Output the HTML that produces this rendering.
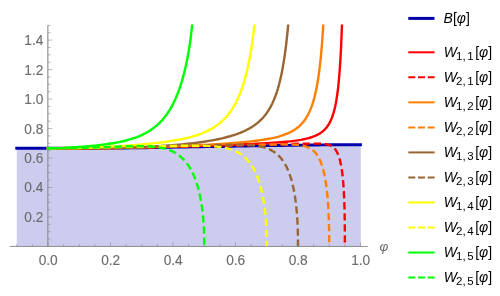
<!DOCTYPE html>
<html><head><meta charset="utf-8"><title>plot</title>
<style>html,body{margin:0;padding:0;background:#fff;}body{width:500px;height:296px;overflow:hidden;font-family:"Liberation Sans",sans-serif;}svg{display:block;will-change:transform;}</style>
</head><body>
<svg width="500" height="296" viewBox="0 0 500 296">
<rect width="500" height="296" fill="#ffffff"/>
<polygon points="16.8,148.20 22.6,148.20 28.5,148.20 34.3,148.20 40.1,148.20 46.0,148.20 51.8,148.20 57.6,148.20 63.4,148.20 69.3,148.20 75.1,148.20 80.9,148.20 86.8,148.19 92.6,148.18 98.4,148.16 104.3,148.13 110.1,148.10 115.9,148.06 121.7,148.01 127.6,147.94 133.4,147.87 139.2,147.78 145.1,147.70 150.9,147.60 156.7,147.49 162.6,147.38 168.4,147.28 174.2,147.18 180.1,147.08 185.9,146.99 191.7,146.90 197.5,146.81 203.4,146.71 209.2,146.62 215.0,146.53 220.9,146.43 226.7,146.34 232.5,146.23 238.4,146.13 244.2,146.03 250.0,145.93 255.9,145.83 261.7,145.73 267.5,145.64 273.3,145.55 279.2,145.46 285.0,145.38 290.8,145.29 296.7,145.21 302.5,145.14 308.3,145.06 314.2,144.99 320.0,144.92 325.8,144.85 331.6,144.79 337.5,144.75 343.3,144.74 349.1,144.72 355.0,144.71 360.8,144.70 360.8,246.5 16.8,246.5" fill="#ccccee"/>
<g fill="none">
<line x1="9.6" y1="246.45" x2="367.8" y2="246.45" stroke="#6e6e6e" stroke-width="0.75"/>
<line x1="47.85" y1="25.35" x2="47.85" y2="246.45" stroke="#8e8e8e" stroke-width="1.15"/>
</g>
<g stroke="#808080" stroke-width="0.55" fill="none">
<line x1="47.85" y1="239.08" x2="50.65" y2="239.08"/>
<line x1="47.85" y1="231.71" x2="50.65" y2="231.71"/>
<line x1="47.85" y1="224.34" x2="50.65" y2="224.34"/>
<line x1="47.85" y1="216.97" x2="52.25" y2="216.97"/>
<line x1="47.85" y1="209.60" x2="50.65" y2="209.60"/>
<line x1="47.85" y1="202.23" x2="50.65" y2="202.23"/>
<line x1="47.85" y1="194.86" x2="50.65" y2="194.86"/>
<line x1="47.85" y1="187.49" x2="52.25" y2="187.49"/>
<line x1="47.85" y1="180.12" x2="50.65" y2="180.12"/>
<line x1="47.85" y1="172.75" x2="50.65" y2="172.75"/>
<line x1="47.85" y1="165.38" x2="50.65" y2="165.38"/>
<line x1="47.85" y1="158.01" x2="52.25" y2="158.01"/>
<line x1="47.85" y1="150.64" x2="50.65" y2="150.64"/>
<line x1="47.85" y1="143.27" x2="50.65" y2="143.27"/>
<line x1="47.85" y1="135.90" x2="50.65" y2="135.90"/>
<line x1="47.85" y1="128.53" x2="52.25" y2="128.53"/>
<line x1="47.85" y1="121.16" x2="50.65" y2="121.16"/>
<line x1="47.85" y1="113.79" x2="50.65" y2="113.79"/>
<line x1="47.85" y1="106.42" x2="50.65" y2="106.42"/>
<line x1="47.85" y1="99.05" x2="52.25" y2="99.05"/>
<line x1="47.85" y1="91.68" x2="50.65" y2="91.68"/>
<line x1="47.85" y1="84.31" x2="50.65" y2="84.31"/>
<line x1="47.85" y1="76.94" x2="50.65" y2="76.94"/>
<line x1="47.85" y1="69.57" x2="52.25" y2="69.57"/>
<line x1="47.85" y1="62.20" x2="50.65" y2="62.20"/>
<line x1="47.85" y1="54.83" x2="50.65" y2="54.83"/>
<line x1="47.85" y1="47.46" x2="50.65" y2="47.46"/>
<line x1="47.85" y1="40.09" x2="52.25" y2="40.09"/>
<line x1="47.85" y1="32.72" x2="50.65" y2="32.72"/>
<line x1="47.85" y1="25.35" x2="50.65" y2="25.35"/>
<line x1="16.75" y1="246.45" x2="16.75" y2="244.05"/>
<line x1="32.38" y1="246.45" x2="32.38" y2="244.05"/>
<line x1="48.00" y1="246.45" x2="48.00" y2="242.45"/>
<line x1="63.62" y1="246.45" x2="63.62" y2="244.05"/>
<line x1="79.25" y1="246.45" x2="79.25" y2="244.05"/>
<line x1="94.88" y1="246.45" x2="94.88" y2="244.05"/>
<line x1="110.50" y1="246.45" x2="110.50" y2="242.45"/>
<line x1="126.12" y1="246.45" x2="126.12" y2="244.05"/>
<line x1="141.75" y1="246.45" x2="141.75" y2="244.05"/>
<line x1="157.38" y1="246.45" x2="157.38" y2="244.05"/>
<line x1="173.00" y1="246.45" x2="173.00" y2="242.45"/>
<line x1="188.62" y1="246.45" x2="188.62" y2="244.05"/>
<line x1="204.25" y1="246.45" x2="204.25" y2="244.05"/>
<line x1="219.88" y1="246.45" x2="219.88" y2="244.05"/>
<line x1="235.50" y1="246.45" x2="235.50" y2="242.45"/>
<line x1="251.12" y1="246.45" x2="251.12" y2="244.05"/>
<line x1="266.75" y1="246.45" x2="266.75" y2="244.05"/>
<line x1="282.38" y1="246.45" x2="282.38" y2="244.05"/>
<line x1="298.00" y1="246.45" x2="298.00" y2="242.45"/>
<line x1="313.62" y1="246.45" x2="313.62" y2="244.05"/>
<line x1="329.25" y1="246.45" x2="329.25" y2="244.05"/>
<line x1="344.88" y1="246.45" x2="344.88" y2="244.05"/>
<line x1="360.50" y1="246.45" x2="360.50" y2="242.45"/>
</g>
<g font-family="Liberation Sans, sans-serif" font-size="14.0" fill="#6c6c6c" stroke="#6c6c6c" stroke-width="0.12">
<text transform="translate(43.4 221.97) scale(0.98 1)" text-anchor="end">0.2</text>
<text transform="translate(43.4 192.49) scale(0.98 1)" text-anchor="end">0.4</text>
<text transform="translate(43.4 163.01) scale(0.98 1)" text-anchor="end">0.6</text>
<text transform="translate(43.4 133.53) scale(0.98 1)" text-anchor="end">0.8</text>
<text transform="translate(43.4 104.05) scale(0.98 1)" text-anchor="end">1.0</text>
<text transform="translate(43.4 74.57) scale(0.98 1)" text-anchor="end">1.2</text>
<text transform="translate(43.4 45.09) scale(0.98 1)" text-anchor="end">1.4</text>
<text transform="translate(48.20 264.6) scale(0.98 1)" text-anchor="middle">0.0</text>
<text transform="translate(110.70 264.6) scale(0.98 1)" text-anchor="middle">0.2</text>
<text transform="translate(173.20 264.6) scale(0.98 1)" text-anchor="middle">0.4</text>
<text transform="translate(235.70 264.6) scale(0.98 1)" text-anchor="middle">0.6</text>
<text transform="translate(298.20 264.6) scale(0.98 1)" text-anchor="middle">0.8</text>
<text transform="translate(360.70 264.6) scale(0.98 1)" text-anchor="middle">1.0</text>
<text x="379.5" y="250.7" font-style="italic" font-size="13.5" stroke="none">φ</text>
</g>
<clipPath id="cp"><rect x="10" y="24.5" width="360" height="222"/></clipPath>
<g clip-path="url(#cp)" fill="none" stroke-linejoin="round">
<path d="M15.3 148.20 20.3 148.20 25.3 148.20 30.4 148.20 35.4 148.20 40.4 148.20 45.4 148.20 50.5 148.20 55.5 148.20 60.5 148.20 65.5 148.20 70.6 148.20 75.6 148.20 80.6 148.20 85.6 148.19 90.6 148.18 95.7 148.17 100.7 148.15 105.7 148.12 110.7 148.10 115.8 148.07 120.8 148.02 125.8 147.96 130.8 147.90 135.9 147.83 140.9 147.76 145.9 147.69 150.9 147.60 155.9 147.51 161.0 147.41 166.0 147.32 171.0 147.23 176.0 147.15 181.1 147.07 186.1 146.99 191.1 146.91 196.1 146.83 201.2 146.75 206.2 146.67 211.2 146.59 216.2 146.51 221.3 146.43 226.3 146.34 231.3 146.26 236.3 146.17 241.3 146.08 246.4 145.99 251.4 145.90 256.4 145.82 261.4 145.73 266.5 145.65 271.5 145.58 276.5 145.50 281.5 145.43 286.6 145.35 291.6 145.28 296.6 145.21 301.6 145.15 306.6 145.08 311.7 145.02 316.7 144.96 321.7 144.90 326.7 144.84 331.8 144.79 336.8 144.76 341.8 144.74 346.8 144.73 351.9 144.72 356.9 144.71 361.9 144.70" stroke="#0000a8" stroke-width="2.9"/>
<path d="M46.75 148.20 80.69 148.19 95.23 148.13 114.62 147.96 131.59 147.67 150.98 147.22 210.37 145.53 232.80 144.77 252.19 143.96 266.13 143.24 277.03 142.53 286.12 141.76 290.25 141.32 294.03 140.86 297.53 140.37 300.77 139.84 303.75 139.26 306.51 138.65 309.07 137.98 311.45 137.26 313.65 136.48 315.69 135.63 317.63 134.70 319.43 133.68 321.11 132.58 322.67 131.39 324.13 130.10 325.49 128.70 326.75 127.19 327.93 125.57 329.03 123.82 330.07 121.91 331.05 119.84 331.95 117.65 332.81 115.25 333.61 112.69 334.37 109.90 335.07 106.96 335.73 103.79 336.37 100.29 336.97 96.54 337.53 92.54 338.05 88.33 338.55 83.72 339.47 73.47 340.29 61.73 341.01 48.59 341.67 33.29 342.25 16.30" stroke="#ff0000" stroke-width="2.4"/>
<path d="M46.75 148.20 90.36 148.05 112.75 147.85 127.08 147.64 148.36 147.23 273.29 144.35 298.23 143.82 310.34 143.61 317.50 143.60 320.08 143.66 322.29 143.78 324.26 143.96 325.97 144.20 327.53 144.52 328.93 144.92 330.20 145.40 331.41 146.00 332.51 146.69 333.52 147.49 334.47 148.42 335.34 149.45 336.16 150.62 336.92 151.93 337.65 153.39 338.32 155.00 338.96 156.77 339.57 158.77 340.14 160.92 340.66 163.25 341.15 165.72 341.61 168.45 342.04 171.43 342.45 174.67 343.15 181.70 343.73 189.61 344.18 198.54 344.51 208.26 344.73 219.09 344.85 231.07 344.88 246.45" stroke="#ff0000" stroke-width="2.4" stroke-dasharray="7.3 3.75" stroke-dashoffset="9.29"/>
<path d="M46.75 148.20 81.71 148.19 98.03 148.12 116.09 147.94 132.99 147.59 152.22 147.03 182.53 145.85 204.09 144.85 221.57 143.85 234.39 142.94 246.04 141.90 251.29 141.34 255.95 140.78 260.61 140.15 264.69 139.52 268.77 138.80 272.26 138.10 275.76 137.30 278.67 136.54 281.64 135.66 284.41 134.71 287.01 133.70 289.43 132.62 291.66 131.49 293.78 130.27 295.76 128.96 297.62 127.57 299.37 126.08 301.03 124.49 302.58 122.79 304.06 120.96 305.45 119.02 306.78 116.93 308.03 114.71 309.22 112.32 310.35 109.75 311.41 107.07 312.41 104.22 313.37 101.15 314.29 97.85 315.16 94.38 315.99 90.68 316.77 86.73 317.52 82.54 318.24 78.12 318.91 73.46 319.56 68.43 320.18 63.18 320.77 57.52 321.89 45.17 322.89 31.60 323.81 16.35" stroke="#ff8000" stroke-width="2.4"/>
<path d="M46.75 148.20 98.10 147.78 124.02 147.48 145.59 147.09 172.57 146.49 258.99 144.74 271.57 144.52 280.56 144.42 285.70 144.42 289.95 144.49 293.55 144.63 296.72 144.85 299.51 145.15 302.02 145.56 304.33 146.08 306.40 146.71 308.05 147.35 309.62 148.10 311.06 148.95 312.43 149.92 313.73 151.02 314.93 152.22 316.09 153.59 317.16 155.05 318.20 156.71 319.18 158.51 320.10 160.45 320.96 162.54 321.79 164.85 322.57 167.30 323.28 169.88 323.97 172.68 324.63 175.80 325.24 179.04 325.81 182.50 326.33 186.16 326.81 190.02 327.26 194.17 327.66 198.48 328.00 202.94 328.57 212.46 328.96 222.73 329.18 233.78 329.25 246.45" stroke="#ff8000" stroke-width="2.4" stroke-dasharray="7.3 3.75" stroke-dashoffset="9.22"/>
<path d="M46.75 148.20 79.67 148.16 94.01 148.09 112.60 147.87 126.41 147.57 142.34 147.02 154.55 146.41 161.45 145.98 168.89 145.46 175.26 144.95 181.63 144.38 187.48 143.79 193.32 143.13 198.63 142.45 203.94 141.69 208.72 140.93 213.50 140.08 217.75 139.24 221.99 138.31 226.24 137.27 229.96 136.26 233.68 135.13 236.86 134.05 240.05 132.86 243.23 131.53 245.89 130.29 248.55 128.92 251.20 127.39 253.32 126.04 255.45 124.54 257.57 122.88 259.53 121.18 261.38 119.39 263.15 117.51 264.84 115.52 266.45 113.41 267.99 111.17 269.44 108.83 270.84 106.34 272.17 103.72 273.44 100.98 274.64 98.07 275.80 95.00 276.90 91.78 277.97 88.33 278.99 84.71 279.95 80.94 280.88 76.94 281.77 72.71 282.63 68.24 283.45 63.54 284.24 58.60 285.00 53.43 285.71 48.03 286.41 42.27 287.73 29.93 288.94 16.41" stroke="#996633" stroke-width="2.4"/>
<path d="M46.75 148.20 86.88 148.09 106.60 147.91 120.90 147.70 148.22 147.06 218.34 144.95 228.83 144.72 236.70 144.66 242.12 144.72 246.87 144.89 251.18 145.17 255.00 145.58 258.54 146.11 261.75 146.78 264.77 147.60 267.56 148.58 269.60 149.45 271.55 150.43 273.41 151.53 275.18 152.74 276.87 154.07 278.47 155.52 279.98 157.08 281.46 158.82 282.85 160.67 284.16 162.65 285.40 164.74 286.59 167.01 287.73 169.46 288.80 172.02 289.81 174.76 290.75 177.60 291.65 180.69 292.50 183.94 293.28 187.36 294.01 190.93 294.67 194.64 295.27 198.56 295.81 202.58 296.29 206.78 296.71 211.13 297.07 215.60 297.37 220.23 297.61 225.04 297.79 229.95 297.91 235.06 298.00 246.45" stroke="#996633" stroke-width="2.4" stroke-dasharray="7.3 3.75" stroke-dashoffset="9.13"/>
<path d="M46.75 148.20 63.26 148.16 77.09 147.93 91.36 147.49 107.42 146.77 122.14 145.93 137.31 144.83 143.56 144.30 149.36 143.75 155.16 143.14 160.51 142.50 165.42 141.86 170.32 141.14 174.34 140.50 178.35 139.79 182.37 138.99 185.94 138.21 189.51 137.33 192.63 136.48 195.75 135.54 198.88 134.50 201.55 133.51 204.23 132.42 206.91 131.21 209.14 130.10 211.81 128.63 214.04 127.28 216.27 125.79 218.51 124.15 220.74 122.33 222.52 120.74 224.31 119.00 226.22 116.95 227.97 114.90 229.65 112.75 231.26 110.48 232.82 108.09 234.32 105.58 235.76 102.95 237.14 100.20 238.48 97.30 239.76 94.29 240.99 91.11 242.18 87.79 243.31 84.35 244.42 80.71 245.47 76.92 246.49 72.97 247.47 68.81 248.41 64.49 249.31 60.03 250.18 55.35 251.02 50.45 251.82 45.31 252.59 40.05 254.04 28.73 255.38 16.50" stroke="#ffff00" stroke-width="2.4"/>
<path d="M46.75 148.20 61.17 147.92 94.89 147.50 118.88 147.16 142.94 146.66 167.25 146.06 179.90 145.81 191.11 145.69 200.02 145.73 206.27 145.89 211.68 146.17 216.52 146.59 220.91 147.15 224.96 147.87 228.63 148.76 230.38 149.27 232.01 149.82 233.65 150.44 235.19 151.08 237.25 152.08 239.22 153.18 241.05 154.35 242.85 155.66 244.56 157.08 246.19 158.61 247.73 160.25 249.24 162.04 250.67 163.94 252.05 166.01 253.35 168.18 254.57 170.45 255.75 172.89 256.87 175.48 257.92 178.17 258.91 181.01 259.87 184.07 260.76 187.27 261.60 190.62 262.37 194.08 263.08 197.75 263.73 201.51 264.32 205.42 264.84 209.48 265.30 213.64 265.69 217.87 266.03 222.29 266.30 226.82 266.50 231.45 266.64 236.23 266.72 241.13 266.75 246.45" stroke="#ffff00" stroke-width="2.4" stroke-dasharray="7.3 3.75" stroke-dashoffset="9.48"/>
<path d="M46.75 148.20 55.98 148.13 65.20 147.83 75.62 147.25 86.33 146.44 96.15 145.49 105.08 144.40 109.25 143.81 112.82 143.24 116.39 142.60 119.96 141.89 122.94 141.23 125.92 140.50 128.89 139.69 131.57 138.89 134.25 138.01 136.93 137.04 139.31 136.09 141.69 135.05 143.77 134.05 145.86 132.97 147.94 131.79 150.02 130.50 152.11 129.09 153.89 127.78 155.68 126.36 157.46 124.82 159.25 123.14 161.04 121.33 162.82 119.35 164.31 117.57 165.93 115.47 167.50 113.26 169.03 110.95 170.49 108.55 171.89 106.08 173.25 103.49 174.57 100.78 175.84 97.97 177.08 95.02 178.27 91.97 179.42 88.81 180.54 85.52 181.64 82.02 182.70 78.41 183.71 74.68 184.69 70.82 185.63 66.83 186.53 62.70 187.38 58.49 188.19 54.14 188.95 49.71 189.66 45.20 190.34 40.54 190.95 35.86 192.04 26.26 192.92 16.39" stroke="#00ff00" stroke-width="2.4"/>
<path d="M46.75 148.20 64.18 148.09 83.47 147.75 97.30 147.36 125.03 146.40 133.20 146.18 140.62 146.12 147.10 146.26 151.86 146.54 156.19 146.98 160.15 147.59 163.82 148.37 165.57 148.84 167.22 149.34 168.87 149.92 170.42 150.52 171.98 151.20 173.44 151.91 174.85 152.67 176.27 153.51 178.02 154.67 179.75 155.97 181.39 157.35 182.97 158.84 184.46 160.41 185.93 162.13 187.32 163.93 188.64 165.82 189.92 167.85 191.12 169.96 192.29 172.21 193.41 174.59 194.48 177.11 195.48 179.70 196.44 182.41 197.33 185.25 198.18 188.20 198.99 191.33 199.72 194.50 200.40 197.82 201.04 201.30 201.62 204.84 202.13 208.51 202.59 212.27 203.00 216.12 203.34 220.08 203.63 224.12 203.86 228.31 204.16 236.95 204.25 246.45" stroke="#00ff00" stroke-width="2.4" stroke-dasharray="7.3 3.75" stroke-dashoffset="9.56"/>
</g>
<g font-family="Liberation Sans, sans-serif" font-size="14" fill="#000000">
<line x1="408.3" y1="18.4" x2="434.5" y2="18.4" stroke="#0000a8" stroke-width="3"/>
<text x="443.6" y="23"><tspan font-style="italic">B</tspan>[<tspan font-style="italic">φ</tspan>]</text>
<line x1="408.3" y1="52.30" x2="434.6" y2="52.30" stroke="#ff0000" stroke-width="2"/>
<text x="443.8" y="57.05"><tspan font-style="italic">W</tspan><tspan font-size="11.5" dy="3" dx="-0.9">1,</tspan><tspan font-size="11.5" dx="1.6">1</tspan><tspan dy="-3" dx="1.5">[</tspan><tspan font-style="italic">φ</tspan>]</text>
<line x1="408.3" y1="77.33" x2="434.6" y2="77.33" stroke="#ff0000" stroke-width="2" stroke-dasharray="7 2.7"/>
<text x="443.8" y="82.08"><tspan font-style="italic">W</tspan><tspan font-size="11.5" dy="3" dx="-0.9">2,</tspan><tspan font-size="11.5" dx="1.6">1</tspan><tspan dy="-3" dx="1.5">[</tspan><tspan font-style="italic">φ</tspan>]</text>
<line x1="408.3" y1="102.36" x2="434.6" y2="102.36" stroke="#ff8000" stroke-width="2"/>
<text x="443.8" y="107.11"><tspan font-style="italic">W</tspan><tspan font-size="11.5" dy="3" dx="-0.9">1,</tspan><tspan font-size="11.5" dx="1.6">2</tspan><tspan dy="-3" dx="1.5">[</tspan><tspan font-style="italic">φ</tspan>]</text>
<line x1="408.3" y1="127.39" x2="434.6" y2="127.39" stroke="#ff8000" stroke-width="2" stroke-dasharray="7 2.7"/>
<text x="443.8" y="132.14"><tspan font-style="italic">W</tspan><tspan font-size="11.5" dy="3" dx="-0.9">2,</tspan><tspan font-size="11.5" dx="1.6">2</tspan><tspan dy="-3" dx="1.5">[</tspan><tspan font-style="italic">φ</tspan>]</text>
<line x1="408.3" y1="152.42" x2="434.6" y2="152.42" stroke="#996633" stroke-width="2"/>
<text x="443.8" y="157.17"><tspan font-style="italic">W</tspan><tspan font-size="11.5" dy="3" dx="-0.9">1,</tspan><tspan font-size="11.5" dx="1.6">3</tspan><tspan dy="-3" dx="1.5">[</tspan><tspan font-style="italic">φ</tspan>]</text>
<line x1="408.3" y1="177.45" x2="434.6" y2="177.45" stroke="#996633" stroke-width="2" stroke-dasharray="7 2.7"/>
<text x="443.8" y="182.20"><tspan font-style="italic">W</tspan><tspan font-size="11.5" dy="3" dx="-0.9">2,</tspan><tspan font-size="11.5" dx="1.6">3</tspan><tspan dy="-3" dx="1.5">[</tspan><tspan font-style="italic">φ</tspan>]</text>
<line x1="408.3" y1="202.48" x2="434.6" y2="202.48" stroke="#ffff00" stroke-width="2"/>
<text x="443.8" y="207.23"><tspan font-style="italic">W</tspan><tspan font-size="11.5" dy="3" dx="-0.9">1,</tspan><tspan font-size="11.5" dx="1.6">4</tspan><tspan dy="-3" dx="1.5">[</tspan><tspan font-style="italic">φ</tspan>]</text>
<line x1="408.3" y1="227.51" x2="434.6" y2="227.51" stroke="#ffff00" stroke-width="2" stroke-dasharray="7 2.7"/>
<text x="443.8" y="232.26"><tspan font-style="italic">W</tspan><tspan font-size="11.5" dy="3" dx="-0.9">2,</tspan><tspan font-size="11.5" dx="1.6">4</tspan><tspan dy="-3" dx="1.5">[</tspan><tspan font-style="italic">φ</tspan>]</text>
<line x1="408.3" y1="252.54" x2="434.6" y2="252.54" stroke="#00ff00" stroke-width="2"/>
<text x="443.8" y="257.29"><tspan font-style="italic">W</tspan><tspan font-size="11.5" dy="3" dx="-0.9">1,</tspan><tspan font-size="11.5" dx="1.6">5</tspan><tspan dy="-3" dx="1.5">[</tspan><tspan font-style="italic">φ</tspan>]</text>
<line x1="408.3" y1="277.57" x2="434.6" y2="277.57" stroke="#00ff00" stroke-width="2" stroke-dasharray="7 2.7"/>
<text x="443.8" y="282.32"><tspan font-style="italic">W</tspan><tspan font-size="11.5" dy="3" dx="-0.9">2,</tspan><tspan font-size="11.5" dx="1.6">5</tspan><tspan dy="-3" dx="1.5">[</tspan><tspan font-style="italic">φ</tspan>]</text>
</g>
</svg>
</body></html>
